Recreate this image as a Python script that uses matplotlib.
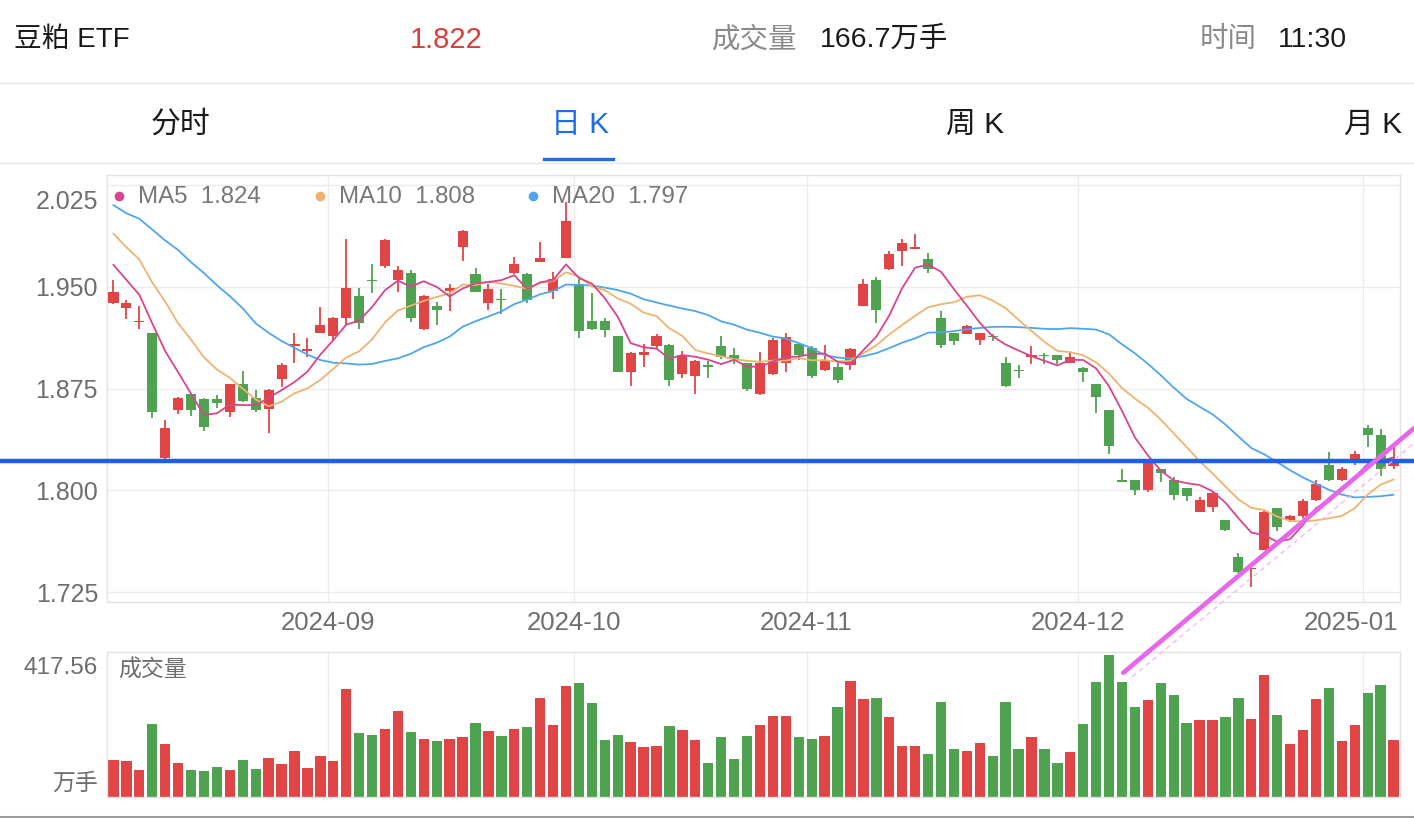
import matplotlib
matplotlib.use('Agg')
import matplotlib.pyplot as plt
import numpy as np
import pandas as pd
from matplotlib.lines import Line2D
import matplotlib.transforms as mtrans

# ---------------- data ----------------
holidays = ['2024-09-16', '2024-09-17', '2024-10-01', '2024-10-02', '2024-10-03',
            '2024-10-04', '2024-10-07', '2025-01-01']
dates = [d for d in pd.bdate_range('2024-08-08', '2025-01-06')
         if d.strftime('%Y-%m-%d') not in holidays]

open_ = [1.938, 1.934, 1.924, 1.916, 1.824, 1.859, 1.871, 1.867, 1.867, 1.858,
         1.878, 1.868, 1.860, 1.882, 1.906, 1.903, 1.916, 1.914, 1.927, 1.943,
         1.955, 1.965, 1.955, 1.960, 1.919, 1.936, 1.947, 1.979, 1.959, 1.938,
         1.941, 1.960, 1.959, 1.968, 1.947, 1.971, 1.952, 1.925, 1.925, 1.914,
         1.887, 1.900, 1.906, 1.907, 1.886, 1.884, 1.892, 1.906, 1.900, 1.894,
         1.871, 1.886, 1.894, 1.908, 1.905, 1.889, 1.891, 1.892, 1.936, 1.955,
         1.963, 1.976, 1.978, 1.970, 1.927, 1.916, 1.915, 1.911, 1.914, 1.894,
         1.889, 1.898, 1.900, 1.900, 1.894, 1.890, 1.878, 1.859, 1.808, 1.808,
         1.800, 1.816, 1.808, 1.802, 1.784, 1.788, 1.778, 1.751, 1.742, 1.756,
         1.787, 1.778, 1.781, 1.793, 1.819, 1.808, 1.820, 1.846, 1.841, 1.818]

high = [1.955, 1.940, 1.936, 1.916, 1.852, 1.869, 1.872, 1.868, 1.870, 1.878,
        1.888, 1.874, 1.875, 1.894, 1.916, 1.912, 1.935, 1.928, 1.985, 1.949,
        1.967, 1.985, 1.965, 1.962, 1.944, 1.939, 1.952, 1.992, 1.964, 1.952,
        1.948, 1.972, 1.960, 1.983, 1.961, 2.012, 1.956, 1.945, 1.927, 1.914,
        1.902, 1.908, 1.915, 1.908, 1.903, 1.896, 1.895, 1.914, 1.905, 1.894,
        1.902, 1.912, 1.916, 1.908, 1.906, 1.907, 1.894, 1.905, 1.956, 1.957,
        1.976, 1.985, 1.989, 1.975, 1.932, 1.916, 1.922, 1.916, 1.915, 1.898,
        1.892, 1.906, 1.901, 1.900, 1.902, 1.891, 1.878, 1.859, 1.816, 1.808,
        1.821, 1.816, 1.810, 1.802, 1.795, 1.799, 1.778, 1.754, 1.743, 1.785,
        1.787, 1.782, 1.794, 1.808, 1.828, 1.817, 1.829, 1.848, 1.845, 1.835]

low = [1.937, 1.926, 1.919, 1.853, 1.823, 1.856, 1.855, 1.844, 1.861, 1.854,
       1.865, 1.858, 1.842, 1.876, 1.894, 1.898, 1.916, 1.910, 1.922, 1.919,
       1.945, 1.964, 1.946, 1.924, 1.918, 1.922, 1.932, 1.969, 1.946, 1.933,
       1.930, 1.959, 1.938, 1.968, 1.941, 1.971, 1.912, 1.918, 1.913, 1.887,
       1.877, 1.891, 1.905, 1.877, 1.883, 1.871, 1.883, 1.897, 1.893, 1.873,
       1.870, 1.885, 1.887, 1.896, 1.883, 1.888, 1.879, 1.889, 1.936, 1.923,
       1.962, 1.965, 1.978, 1.960, 1.905, 1.907, 1.915, 1.907, 1.910, 1.876,
       1.883, 1.893, 1.893, 1.893, 1.894, 1.880, 1.857, 1.827, 1.806, 1.797,
       1.799, 1.806, 1.793, 1.792, 1.784, 1.784, 1.770, 1.739, 1.729, 1.756,
       1.770, 1.777, 1.780, 1.792, 1.807, 1.807, 1.819, 1.832, 1.811, 1.816]

close = [1.946, 1.938, 1.925, 1.858, 1.846, 1.868, 1.859, 1.847, 1.864, 1.878,
         1.866, 1.859, 1.874, 1.892, 1.908, 1.904, 1.922, 1.927, 1.949, 1.923,
         1.954, 1.984, 1.962, 1.927, 1.943, 1.933, 1.949, 1.991, 1.946, 1.948,
         1.940, 1.967, 1.940, 1.971, 1.956, 1.998, 1.917, 1.919, 1.918, 1.887,
         1.901, 1.902, 1.914, 1.881, 1.900, 1.895, 1.891, 1.898, 1.897, 1.875,
         1.894, 1.911, 1.913, 1.900, 1.884, 1.896, 1.881, 1.904, 1.952, 1.933,
         1.974, 1.982, 1.979, 1.963, 1.907, 1.910, 1.921, 1.916, 1.913, 1.877,
         1.888, 1.900, 1.899, 1.896, 1.898, 1.887, 1.869, 1.833, 1.806, 1.800,
         1.821, 1.813, 1.797, 1.796, 1.793, 1.798, 1.771, 1.740, 1.743, 1.784,
         1.773, 1.781, 1.792, 1.805, 1.808, 1.816, 1.827, 1.841, 1.816, 1.822]

volume = [108, 105, 79, 214, 157, 100, 80, 77, 89, 80,
          108, 83, 114, 96, 136, 85, 122, 106, 318, 188,
          182, 199, 254, 190, 171, 165, 170, 176, 218, 194,
          178, 199, 207, 290, 211, 325, 334, 276, 169, 181,
          163, 146, 149, 210, 197, 167, 101, 176, 112, 179,
          212, 239, 239, 175, 172, 178, 266, 342, 288, 292,
          236, 149, 151, 126, 280, 141, 136, 160, 120, 278,
          140, 176, 140, 100, 132, 215, 338, 417.56, 337, 266,
          284, 334, 299, 217, 226, 226, 236, 292, 230, 360,
          242, 157, 198, 287, 321, 166, 213, 307, 330, 166.7]

# moving-average values at the left edge (earlier data not shown)
ma5_head = [1.966, 1.955, 1.944, 1.923]
ma10_head = [1.989, 1.979, 1.970, 1.953, 1.939, 1.923, 1.911, 1.898, 1.889]
ma20_head = [2.010, 2.004, 2.000, 1.992, 1.984, 1.977, 1.968, 1.960, 1.951, 1.943,
             1.934, 1.923, 1.916, 1.910, 1.905, 1.900, 1.896, 1.894, 1.8935]

price_ticks = [1.725, 1.800, 1.875, 1.950, 2.025]
trend_line = [(78.1, 1.6658), (100.6, 1.8459)]
trend_line_faint = [(78.8, 1.6629), (100.6, 1.8349)]

header_name = '豆粕 ETF'
tabs = ['分时', '日 K', '周 K', '月 K']
time_str = '11:30'

# ---------------- style ----------------
W, H = 1414, 818
FONT = ['Liberation Sans', 'Noto Sans CJK SC', 'DejaVu Sans']
plt.rcParams['font.family'] = FONT

RED = '#E04545'
GREEN = '#4FA24F'
C_MA5 = '#D9458C'
C_MA10 = '#EDB470'
C_MA20 = '#4FA6EE'
GRID = '#ECECEC'
TXT = '#6E6E6E'

fig = plt.figure(figsize=(W / 100, H / 100), dpi=100)
fig.patch.set_facecolor('white')


def fx(px):
    return px / W


def fy(py):
    return 1 - py / H


n = len(close)
x = np.arange(n)
o = np.array(open_); c = np.array(close); hi = np.array(high); lo = np.array(low)
up = c >= o
colors = np.where(up, RED, GREEN)

cs = pd.Series(c)
ma5 = cs.rolling(5).mean().to_numpy(); ma5[:len(ma5_head)] = ma5_head
ma10 = cs.rolling(10).mean().to_numpy(); ma10[:len(ma10_head)] = ma10_head
ma20 = cs.rolling(20).mean().to_numpy(); ma20[:len(ma20_head)] = ma20_head

month_labels = []
month_idx = []
prev = None
for i, d in enumerate(dates):
    m = d.strftime('%Y-%m')
    if m != prev:
        if prev is not None:
            month_labels.append(m)
            month_idx.append(i)
        prev = m
month_pos = [i - 0.4 for i in month_idx]

# ---------------- price axes ----------------
ax = fig.add_axes([fx(107), fy(602), 1293 / W, (602 - 174.7) / H])
ax.set_xlim(-0.5, n - 0.5)
ax.set_ylim(1.7179, 2.0324)
for s in ax.spines.values():
    s.set_color('#E2E2E2'); s.set_linewidth(1)
for t in price_ticks:
    ax.axhline(t, color=GRID, lw=1, zorder=0)
for p in month_pos:
    ax.axvline(p, color=GRID, lw=1, zorder=0)

ax.vlines(x, lo, hi, colors=colors, lw=1.3, zorder=2)
body_h = np.maximum(np.abs(c - o), 0.0009)
ax.bar(x, body_h, bottom=np.minimum(o, c), width=0.78, color=colors, lw=0, zorder=3)

ax.plot(x, ma20, color=C_MA20, lw=1.3, zorder=4)
ax.plot(x, ma10, color=C_MA10, lw=1.3, zorder=4)
ax.plot(x, ma5, color=C_MA5, lw=1.3, zorder=4)

ax.set_xticks([]); ax.set_yticks([])
ax.tick_params(length=0)
ytr = mtrans.blended_transform_factory(fig.transFigure, ax.transData)
for t in price_ticks:
    off = -0.0105 if t == max(price_ticks) else 0.0
    ax.text(fx(98), t + off - 0.002, f'{t:.3f}', transform=ytr, ha='right', va='center',
            fontsize=18, color=TXT)

xtr = mtrans.blended_transform_factory(ax.transData, fig.transFigure)
for k, (p, lab) in enumerate(zip(month_pos, month_labels)):
    if k == len(month_labels) - 1:
        ax.text(n - 0.6, fy(623), lab, transform=xtr, ha='right', va='center',
                fontsize=18.5, color=TXT)
    else:
        ax.text(p, fy(623), lab, transform=xtr, ha='center', va='center',
                fontsize=18.5, color=TXT)

# legend
leg = [('MA5', ma5[-1], C_MA5, 119), ('MA10', ma10[-1], C_MA10, 320), ('MA20', ma20[-1], C_MA20, 533)]
for name, val, col, px in leg:
    fig.add_artist(Line2D([fx(px)], [fy(196)], marker='o', ms=7, color=col, mec='none',
                          transform=fig.transFigure))
    fig.text(fx(px + 19), fy(197), f'{name}  {val:.3f}', ha='left', va='center',
             fontsize=17.3, color='#777777')

# ---------------- volume axes ----------------
vax = fig.add_axes([fx(107), fy(797), 1293 / W, 145 / H])
vax.set_xlim(-0.5, n - 0.5)
vmax = max(volume)
vax.set_ylim(0, vmax * 144.7 / 141.7)
for s in vax.spines.values():
    s.set_color('#E2E2E2'); s.set_linewidth(1)
for p in month_pos:
    vax.axvline(p, color=GRID, lw=1, zorder=0)
vax.bar(x, volume, width=0.8, color=colors, lw=0, zorder=2)
vax.set_xticks([]); vax.set_yticks([])
fig.text(fx(98), fy(668), f'{vmax:.2f}', ha='right', va='center', fontsize=17.5, color=TXT)
fig.text(fx(98), fy(783), '万手', ha='right', va='center', fontsize=16.5, color=TXT)
fig.text(fx(118), fy(670), '成交量', ha='left', va='center', fontsize=16.5, color=TXT)

# current price line (full width)
fig.add_artist(Line2D([0, 1], [c[-1], c[-1]], color='#1E5FE6', lw=3.2,
                      transform=ytr, zorder=10))

# trend lines drawn by user (over both panels)
fig.add_artist(Line2D([trend_line_faint[0][0], trend_line_faint[1][0]],
                      [trend_line_faint[0][1], trend_line_faint[1][1]],
                      color='#F3B5F3', lw=0.9, ls=(0, (4, 3)), transform=ax.transData,
                      zorder=19))
fig.add_artist(Line2D([trend_line[0][0], trend_line[1][0]],
                      [trend_line[0][1], trend_line[1][1]],
                      color='#E668E8', lw=3.4, solid_capstyle='round', transform=ax.transData,
                      zorder=20))

# ---------------- header ----------------
fig.text(fx(14), fy(40), header_name, ha='left', va='center', fontsize=20, color='#1A1A1A')
fig.text(fx(446), fy(40), f'{c[-1]:.3f}', ha='center', va='center', fontsize=21, color='#E03C3C')
fig.text(fx(712), fy(40), '成交量', ha='left', va='center', fontsize=20.5, color='#8A8A8A')
fig.text(fx(820), fy(40), f'{volume[-1]:.1f}万手', ha='left', va='center', fontsize=20.5, color='#1A1A1A')
fig.text(fx(1200), fy(40), '时间', ha='left', va='center', fontsize=20.5, color='#8A8A8A')
fig.text(fx(1278), fy(40), time_str, ha='left', va='center', fontsize=20.5, color='#1A1A1A')
fig.add_artist(Line2D([0, 1], [fy(83), fy(83)], color='#E8E8E8', lw=1, transform=fig.transFigure))

tab_x = [181, 580, 975, 1373]
for k, (t, px) in enumerate(zip(tabs, tab_x)):
    fig.text(fx(px), fy(125), t, ha='center', va='center', fontsize=21.5,
             color='#1B6EE8' if k == 1 else '#1A1A1A')
fig.add_artist(Line2D([fx(544), fx(613)], [fy(159), fy(159)], color='#1B6EE8', lw=2.4,
                      transform=fig.transFigure))
fig.add_artist(Line2D([0, 1], [fy(162.5), fy(162.5)], color='#E8E8E8', lw=1, transform=fig.transFigure))
fig.add_artist(Line2D([0, 1], [fy(816.5), fy(816.5)], color='#9C9C9C', lw=2.2, transform=fig.transFigure))

fig.savefig('out.png', dpi=100, facecolor='white')
